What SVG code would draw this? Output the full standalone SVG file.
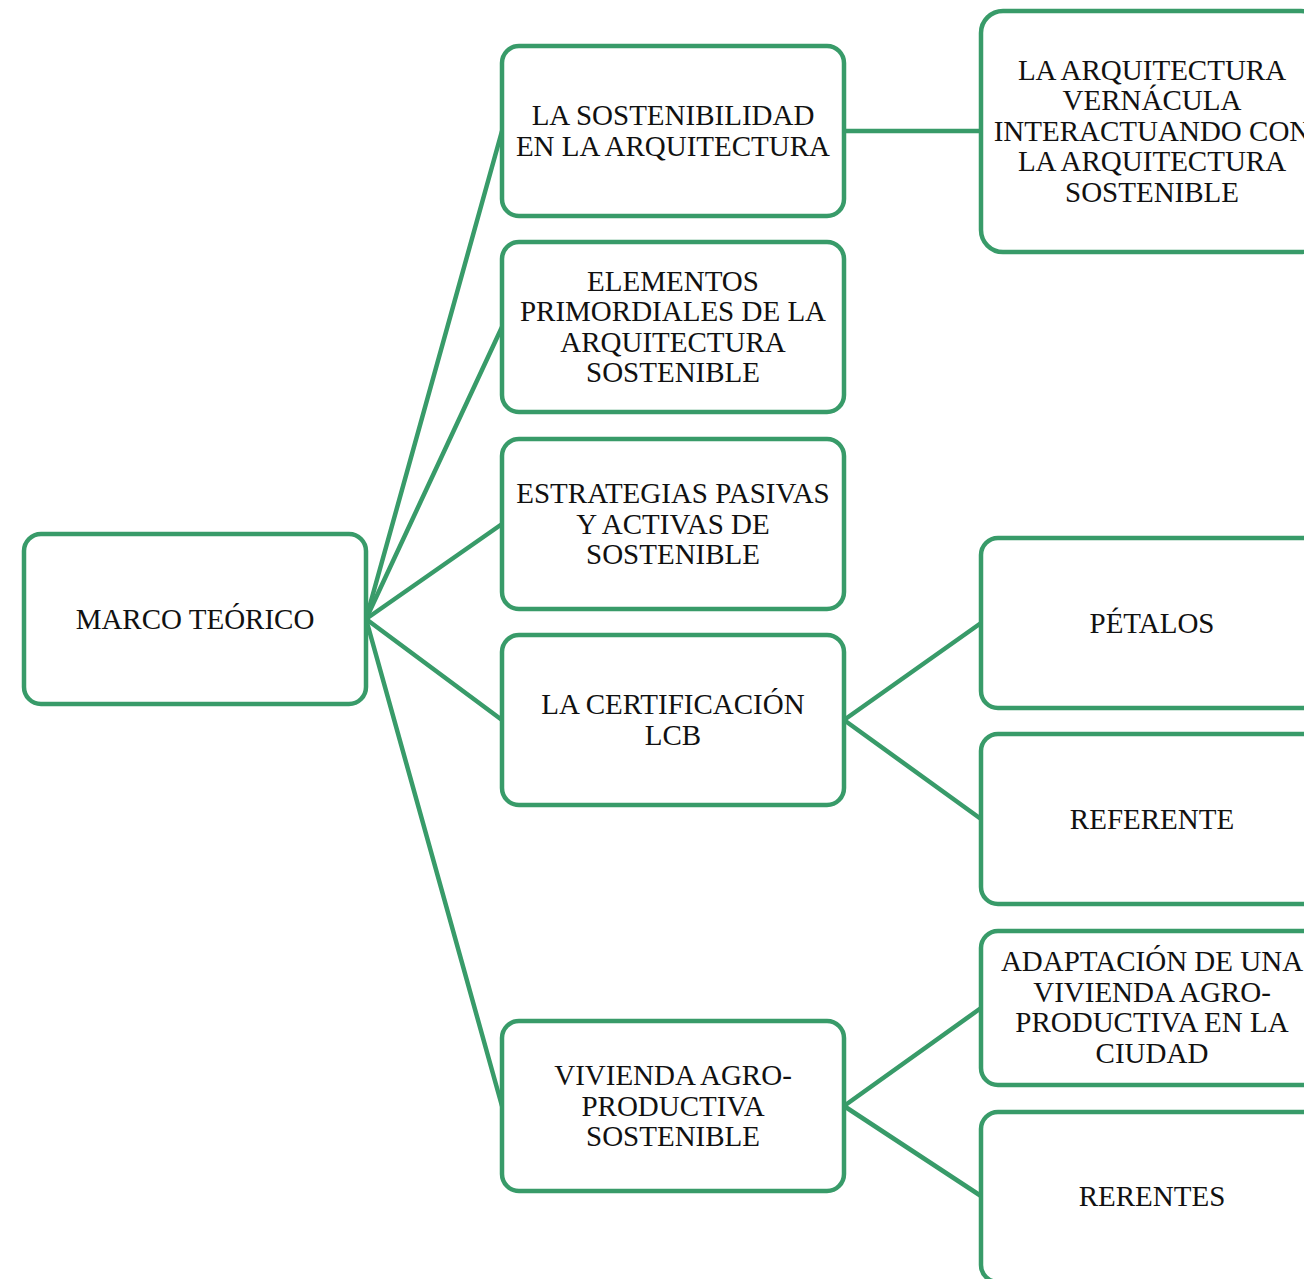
<svg xmlns="http://www.w3.org/2000/svg" width="1304" height="1279" viewBox="0 0 1304 1279">
  <style>
    .box { fill: #ffffff; stroke: #389b69; stroke-width: 4.5; }
    .link { fill: none; stroke: #389b69; stroke-width: 4.5; stroke-linecap: round; }
    .label { font-family: "Liberation Serif", "Times New Roman", serif; font-size: 29px; fill: #111111; text-anchor: middle; }
  </style>
  <rect width="1304" height="1279" fill="#ffffff"/>

  <g id="connectors">
    <path class="link" d="M366 619 L502 131"/>
    <path class="link" d="M366 619 L502 327"/>
    <path class="link" d="M366 619 L502 524"/>
    <path class="link" d="M366 619 L502 720"/>
    <path class="link" d="M366 619 L502 1106"/>
    <path class="link" d="M844 131 L981 131"/>
    <path class="link" d="M844 720 L981 623"/>
    <path class="link" d="M844 720 L981 819"/>
    <path class="link" d="M844 1106 L981 1008"/>
    <path class="link" d="M844 1106 L981 1196"/>
  </g>

  <g id="marco-teorico">
    <rect class="box" x="24" y="534" width="342" height="170" rx="17"/>
    <text class="label" x="195" y="628.6">MARCO TEÓRICO</text>
  </g>

  <g id="sostenibilidad">
    <rect class="box" x="502" y="46" width="342" height="170" rx="17"/>
    <text class="label" x="673" y="125.4">LA SOSTENIBILIDAD</text>
    <text class="label" x="673" y="155.9">EN LA ARQUITECTURA</text>
  </g>

  <g id="elementos">
    <rect class="box" x="502" y="242" width="342" height="170" rx="17"/>
    <text class="label" x="673" y="290.9">ELEMENTOS</text>
    <text class="label" x="673" y="321.4">PRIMORDIALES DE LA</text>
    <text class="label" x="673" y="351.9">ARQUITECTURA</text>
    <text class="label" x="673" y="382.4">SOSTENIBLE</text>
  </g>

  <g id="estrategias">
    <rect class="box" x="502" y="439" width="342" height="170" rx="17"/>
    <text class="label" x="673" y="503.1">ESTRATEGIAS PASIVAS</text>
    <text class="label" x="673" y="533.6">Y ACTIVAS DE</text>
    <text class="label" x="673" y="564.1">SOSTENIBLE</text>
  </g>

  <g id="certificacion">
    <rect class="box" x="502" y="635" width="342" height="170" rx="17"/>
    <text class="label" x="673" y="714.4">LA CERTIFICACIÓN</text>
    <text class="label" x="673" y="744.9">LCB</text>
  </g>

  <g id="vivienda">
    <rect class="box" x="502" y="1021" width="342" height="170" rx="17"/>
    <text class="label" x="673" y="1085.1">VIVIENDA AGRO-</text>
    <text class="label" x="673" y="1115.6">PRODUCTIVA</text>
    <text class="label" x="673" y="1146.1">SOSTENIBLE</text>
  </g>

  <g id="vernacula">
    <rect class="box" x="981" y="11" width="342" height="241" rx="22"/>
    <text class="label" x="1152" y="79.6">LA ARQUITECTURA</text>
    <text class="label" x="1152" y="110.1">VERNÁCULA</text>
    <text class="label" x="1152" y="140.6">INTERACTUANDO CON</text>
    <text class="label" x="1152" y="171.1">LA ARQUITECTURA</text>
    <text class="label" x="1152" y="201.6">SOSTENIBLE</text>
  </g>

  <g id="petalos">
    <rect class="box" x="981" y="538" width="342" height="170" rx="17"/>
    <text class="label" x="1152" y="632.6">PÉTALOS</text>
  </g>

  <g id="referente">
    <rect class="box" x="981" y="734" width="342" height="170" rx="17"/>
    <text class="label" x="1152" y="828.6">REFERENTE</text>
  </g>

  <g id="adaptacion">
    <rect class="box" x="981" y="931" width="342" height="154" rx="17"/>
    <text class="label" x="1152" y="971.3">ADAPTACIÓN DE UNA</text>
    <text class="label" x="1152" y="1001.8">VIVIENDA AGRO-</text>
    <text class="label" x="1152" y="1032.3">PRODUCTIVA EN LA</text>
    <text class="label" x="1152" y="1062.8">CIUDAD</text>
  </g>

  <g id="rerentes">
    <rect class="box" x="981" y="1112" width="342" height="170" rx="17"/>
    <text class="label" x="1152" y="1205.6">RERENTES</text>
  </g>
</svg>
